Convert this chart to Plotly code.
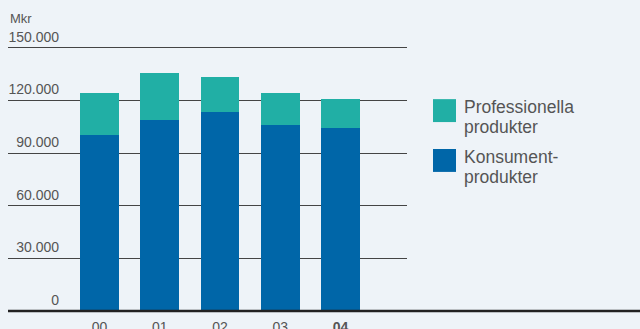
import plotly.graph_objects as go

# Net sales by segment (MSEK)
years = ["00", "01", "02", "03", "04"]
year_labels = ["00", "01", "02", "03", "<b>04</b>"]
konsument = [100300, 108800, 113300, 106000, 104300]
professionella = [23900, 26700, 19900, 18300, 16400]

y_ticks = [0, 30000, 60000, 90000, 120000, 150000]
y_tick_text = ["0", "30.000", "60.000", "90.000", "120.000", "150.000"]

legend_names = [["Professionella", "produkter"], ["Konsument-", "produkter"]]

BLUE = "#0066a8"
TEAL = "#21afa5"
BG = "#eef3f8"
TXT = "#555555"
FONT = "Liberation Sans, Arial, sans-serif"

W, H = 640, 329
L, R, T, B = 8, 233, 45.7, 17.5
Y_MAX = 151000

fig = go.Figure()
fig.add_trace(go.Bar(x=years, y=konsument, name="Konsumentprodukter",
                     marker=dict(color=BLUE, line=dict(width=0)), width=0.647))
fig.add_trace(go.Bar(x=years, y=professionella, name="Professionella produkter",
                     marker=dict(color=TEAL, line=dict(width=0)), width=0.647))

fig.update_layout(
    width=W, height=H,
    margin=dict(l=L, r=R, t=T, b=B, pad=0, autoexpand=False),
    paper_bgcolor=BG, plot_bgcolor=BG,
    barmode="stack", showlegend=False,
    font=dict(family=FONT, color=TXT, size=14),
)

fig.update_xaxes(
    type="category", range=[-1.519, 5.104], fixedrange=True, automargin=False,
    tickvals=years, ticktext=year_labels,
    showgrid=False, showline=False, zeroline=False, ticks="",
    tickfont=dict(size=14, color=TXT, family=FONT),
    ticklabelstandoff=6,
)
fig.update_yaxes(
    range=[0, Y_MAX], tickvals=y_ticks, ticktext=y_tick_text, automargin=False,
    showgrid=True, gridcolor="#444444", gridwidth=1.2,
    zeroline=False, showline=False, ticks="",
    tickfont=dict(size=14, color=TXT, family=FONT),
    ticklabelposition="outside", ticklabelstandoff=-52, ticklabelshift=-11,
)

# baseline running across the whole width
fig.add_shape(type="line", xref="paper", yref="paper",
              x0=0, x1=(W - L) / (W - L - R), y0=0, y1=0,
              line=dict(color="#222222", width=2.5))

pw = W - L - R
ph = H - T - B
def px(xp):
    return (xp - L) / pw
def py(yp):
    return (H - B - yp) / ph

# unit label
fig.add_annotation(text="Mkr", xref="paper", yref="paper",
                   x=0, y=py(18.5),
                   xanchor="left", yanchor="middle", showarrow=False,
                   font=dict(size=13, color=TXT, family=FONT))

# legend: swatches and two-line labels
swatches = [(433, 99, TEAL), (433, 149, BLUE)]
for (sx, sy, col), names in zip(swatches, legend_names):
    fig.add_shape(type="rect", xref="paper", yref="paper",
                  x0=px(sx), x1=px(sx + 23), y0=py(sy + 23), y1=py(sy),
                  fillcolor=col, line=dict(width=0))
    for i, line in enumerate(names):
        fig.add_annotation(text=line, xref="paper", yref="paper",
                           x=px(462), y=py(sy + 8 + 20 * i),
                           xanchor="left", yanchor="middle", showarrow=False,
                           font=dict(size=17.5, color=TXT, family=FONT))

fig.write_html("out.html")
